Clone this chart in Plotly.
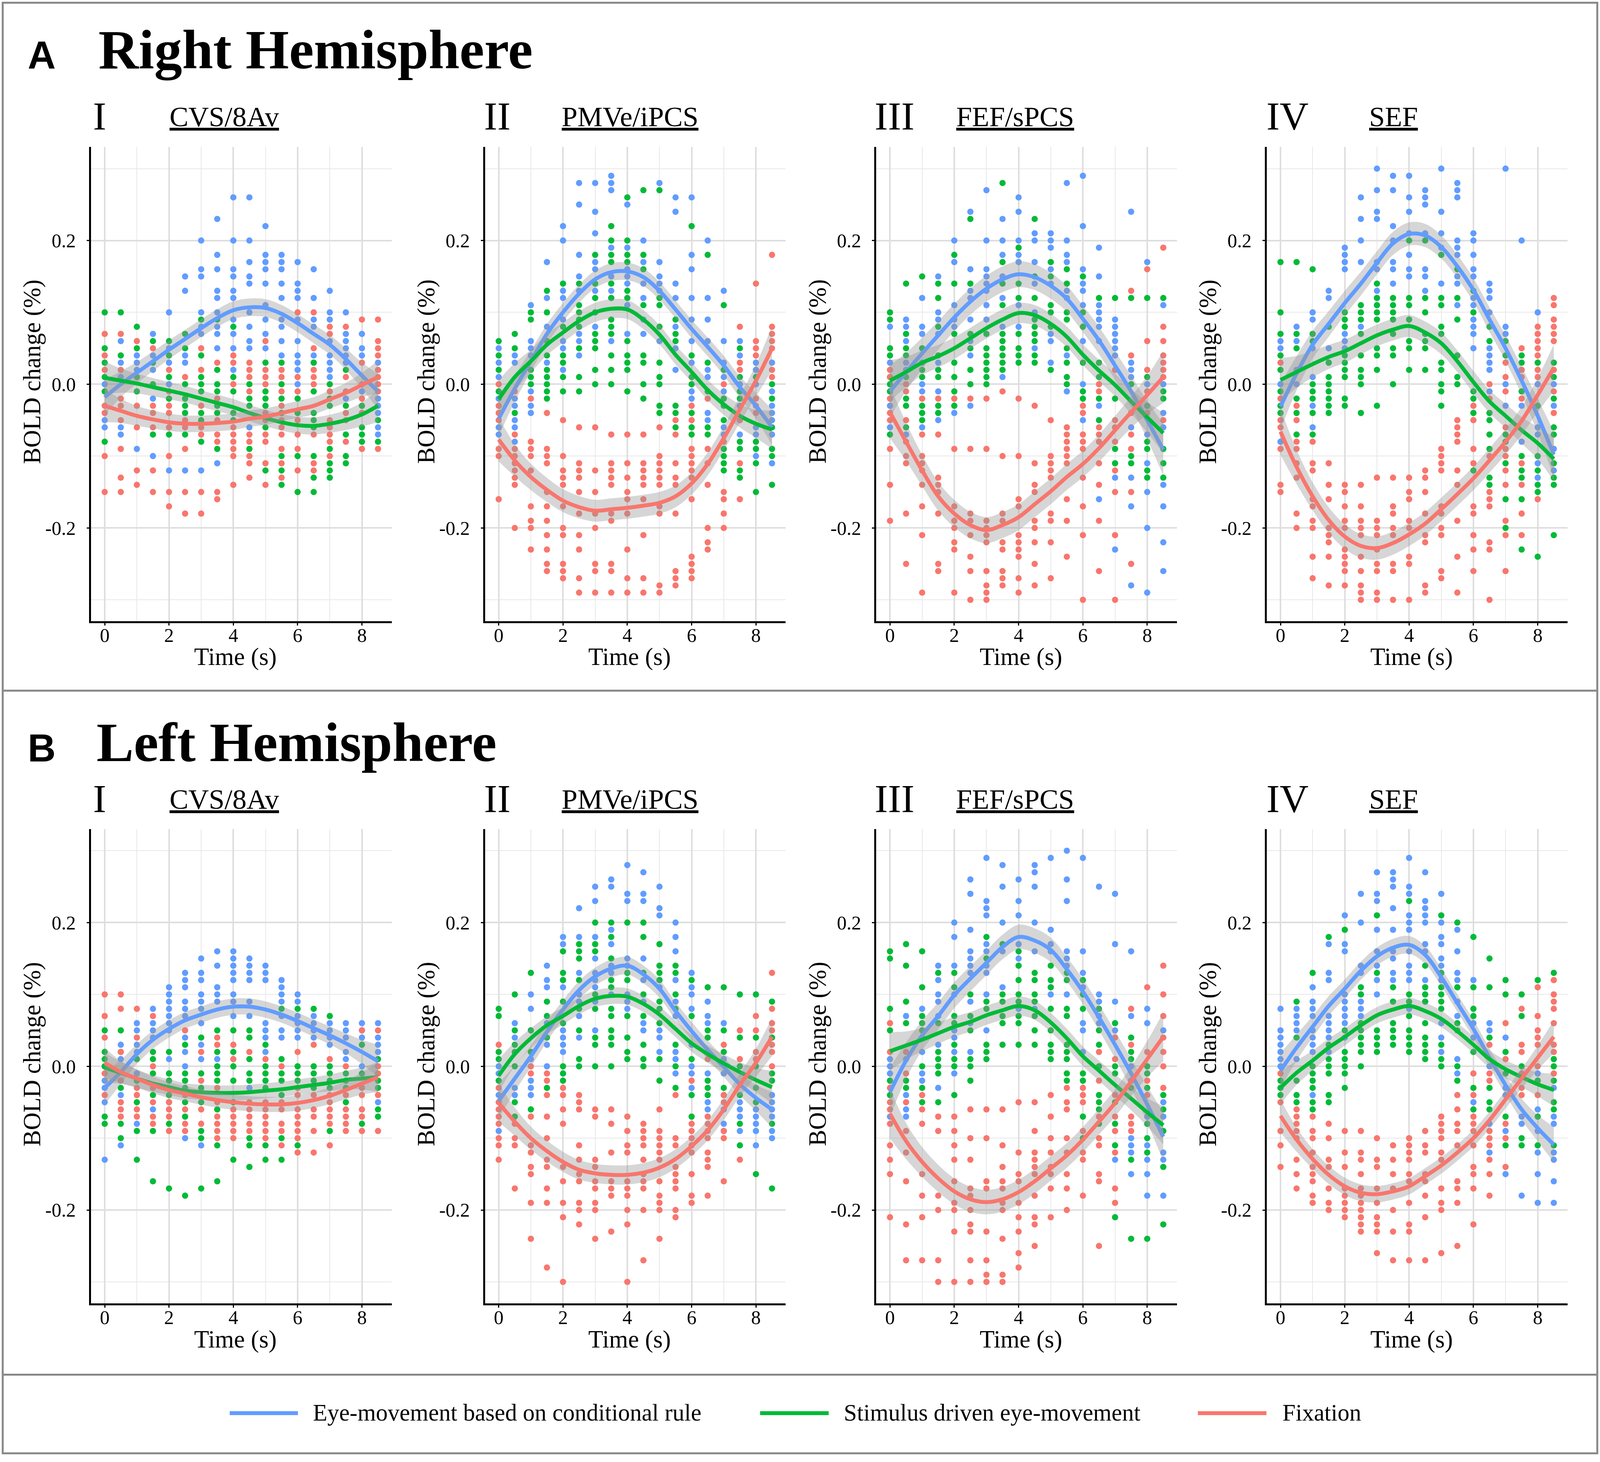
import plotly.graph_objects as go

# Reference composition is 4130 x 3742; the captured viewport is 4096 px wide,
# so the composition is mapped onto a 4096 px wide figure.
REF_W, REF_H = 4130, 3742
FW, FH = 4096, 3742
SX = FW / REF_W
SY = 1 - (1 - SX) * 0.5
FS = SX  # font scale

TIMES = [0.0, 0.5, 1.0, 1.5, 2.0, 2.5, 3.0, 3.5, 4.0, 4.5, 5.0, 5.5, 6.0, 6.5, 7.0, 7.5, 8.0, 8.5]
CONDITIONS = ["Eye-movement based on conditional rule", "Stimulus driven eye-movement", "Fixation"]
COLORS = ["#619CFF", "#00BA38", "#F8766D"]
REGIONS = ["CVS/8Av", "PMVe/iPCS", "FEF/sPCS", "SEF"]
NUMERALS = ["I", "II", "III", "IV"]
HEMI_LETTERS = ["A", "B"]
HEMI_TITLES = ["Right Hemisphere", "Left Hemisphere"]
X_TICKS = [0, 2, 4, 6, 8]
X_MINOR = [1, 3, 5, 7]
Y_TICKS = [-0.2, 0.0, 0.2]
Y_TICK_LABELS = ["-0.2", "0.0", "0.2"]
Y_MINOR = [-0.3, -0.1, 0.1, 0.3]

# ---------- individual points (BOLD change in hundredths of %), one list per time point ----------
A1_B = [[0,-5,-6],[6,3,1,-6,-7],[4,3,2,-9],[7,4,2,-2,-10],[10,5,3,0,-12],[15,13,4,3,-12],
        [20,16,15,10,8,7,-12],[23,18,16,13,12,10,8,7,5,-11],[26,20,16,15,13,12,9,7,5,2],
        [26,20,17,15,14,10,8,6,5,-6],[22,18,17,16,14,11,9,7,5],[18,17,16,14,12,9,8,6,4],
        [17,14,13,12,9,6,4,3,2,0],[16,12,9,8,4,3],[13,10,9,6,4,3,2,1],[10,7,6,5,4,3,-2],
        [7,5,4,-1],[3,-2,-3,-4,-6,-7]]
A1_G = [[10,5,3,1,-1,-8],[10,4],[8,5,1,-1],[6,3,0,-7],[6,4,1,-2,-7],[7,5,0,-2,-3,-4,-7],
        [9,4,1,0,-1,-4,-5,-8],[9,2,0,-1,-3,-4,-9],[8,1,-1,-4,-5],[0,-2,-3,-9],
        [3,-1,-2,-3,-6,-12],[3,0,-2,-4,-10,-12,-14],[-2,-4,-10,-15],[3,-1,-4,-5,-6,-10,-13,-15],
        [0,-2,-3,-9,-11,-12,-13],[2,-3,-7,-10,-11],[-3,-6,-7,-8],[-5,-8]]
A1_R = [[7,4,2,-3,-4,-10,-15],[7,2,-2,-3,-5,-9,-13,-15],[6,-3,-6,-12,-14],[5,-3,-4,-6,-12,-15],
        [2,-1,-3,-4,-6,-10,-15,-17],[1,-5,-6,-9,-15,-18],[5,2,-3,-6,-7,-15,-18],
        [3,-2,-5,-7,-8,-15,-16],[4,3,0,-6,-7,-8,-9,-10,-14],[3,2,1,-1,-7,-8,-10,-11,-13],
        [6,2,1,0,-4,-5,-7,-8,-11,-14],[2,1,-1,-3,-5,-6,-7,-9,-11,-13],[10,1,-1,-5,-7,-9,-12],
        [10,5,2,1,0,-7,-11,-12],[8,7,-1,-5,-6,-7,-8,-10],[8,1,-1,-4,-5,-8],[9,3,0,-2,-4,-9],
        [9,6,5,4,2,1,0,-1,-9]]
A2_B = [[5,3,1,-2,-6,-7],[4,3,-2,-3,-5,-6,-8],[11,6,5,4,-1,-3,-4],[17,12,8,3],
        [22,20,13,12,9,6,5,2],[28,25,18,15,13,7,6,4],[28,24,21,17,16,13,8],[29,28,27,19,15,13,12,6],
        [25,19,16,15,14,11,7],[20,17,14,12,9,7],[28,17,15,14,13,6],[26,24,14,12,8,5,2],
        [26,18,16,12,9,6,3,-1,-2],[20,12,9,6,2,1,-4,-5],[13,6,3,1,-1,-6,-7],[6,4,0,-3,-5,-7],
        [3,2,0,-6,-7,-10],[3,-1,-3,-4,-5,-7,-11]]
A2_G = [[6,4,2,-1],[7,5,-4],[10,9,2,1,0],[13,10,6,4,2,1,0,-1,-2],[14,8,4,3,1,-1],
        [14,11,10,9,8,5,1,-1],[18,14,12,10,7,6,5,2,0],[22,20,18,17,14,12,9,8,7,4,2,0],
        [26,20,18,17,13,12,6,4,3,2,-1],[27,18,16,11,4,3,0,-2],[27,12,11,8,3,1,0,-3,-4],
        [9,7,6,-3,-4,-6],[22,4,1,0,-4,-6,-7],[18,3,-1,-6,-7],[11,2,-2,-3,-5,-9,-10,-11,-12],
        [5,1,-1,-2,-8,-9,-12,-13],[1,-8,-9,-11,-15],[0,-2,-6,-9,-10,-14]]
A2_R = [[0,-3,-4,-5,-9,-10,-16],[-1,-7,-9,-10,-11,-12,-13,-14,-20],[-2,-8,-9,-10,-12,-17,-19,-20,-23],
        [-4,-9,-10,-11,-15,-17,-19,-21,-23,-25,-26],[-5,-10,-12,-13,-14,-17,-20,-21,-25,-26,-27],
        [-6,-11,-12,-13,-15,-18,-21,-23,-27,-29],[-6,-12,-15,-18,-20,-25,-26,-29],
        [-7,-11,-12,-13,-14,-18,-19,-25,-26,-29],[-7,-11,-13,-15,-16,-18,-23,-27,-29],
        [-7,-11,-12,-13,-14,-16,-21,-27,-29],[-6,-10,-11,-12,-13,-14,-17,-18,-28,-29],
        [-5,-7,-11,-13,-14,-18,-26,-27,-28],[-3,-5,-9,-10,-11,-12,-13,-16,-24,-25,-26,-27],
        [-2,-9,-11,-14,-20,-22,-23],[0,-8,-15,-16,-18,-20],[8,3,2,-5,-11,-16],[14,6,5,4,-2,-3,-4],
        [18,8,7,6,5,2,1]]
A3_B = [[8,3,-1,-3,-6],[9,8,6,3,2,-7],[12,8,7,3,0,-1,-6],[15,10,9,7,3,-1,-5],[20,17,11,9,8,-4],
        [24,16,13,12,9,6,4,-3],[27,20,16,15,14,13,11,9],[23,20,18,15,12,8,1],[26,24,20,18,17,11,8],
        [21,20,17,14,10,5],[21,20,19,16,14,7,6,3],[28,20,18,17,13,12,4,-1],[29,22,16,14,13,11,6,0,-5],
        [19,15,11,10,9,8,6,-3,-16],[9,8,7,6,5,4,-13,-23],[24,3,2,1,-6,-13,-17,-28],
        [17,0,-7,-11,-15,-20,-29],[11,0,-4,-6,-14,-17,-22,-26]]
A3_G = [[10,9,5,4,1,0,-1,-7],[14,7,5,4,1,-2,-3,-6],[15,5,2,1,-3,-4,-5],[14,12,8,4,2,1,-3,-4],
        [18,14,7,3,1,-1,-3],[23,14,7,5,2,0],[7,5,4,3,2,1,0],[28,17,14,11,7,6,5,4,3,2],
        [19,14,12,7,5,4,3],[23,15,12,9,8,7,6,4,3],[17,15,11,10,8,2],[16,14,10,9,5,3,1,0],
        [15,10,8,3,-1,-2],[12,3,1,-2,-5],[12,-2,-9,-11],[12,0,-10,-11],[12,1,-3,-8,-9,-12,-13],
        [12,-1,-2,-9,-11,-13]]
A3_R = [[2,1,-2,-4,-5,-9,-14,-19],[0,-1,-5,-8,-10,-11,-18,-25],[-2,-7,-10,-11,-12,-14,-17,-21,-29],
        [-2,-7,-13,-14,-15,-18,-25,-26],[-2,-9,-17,-19,-20,-22,-23,-29],[-2,-9,-18,-19,-21,-24,-26,-30],
        [-2,-9,-19,-20,-21,-22,-26,-28,-29,-30],[-1,-10,-18,-19,-22,-23,-26,-27,-28],
        [-2,-10,-16,-17,-21,-22,-23,-24,-27,-29],[-3,-11,-14,-15,-19,-20,-22,-25,-28],
        [-5,-10,-11,-12,-13,-18,-19,-22,-27],[-6,-7,-8,-9,-10,-11,-16,-19,-24],
        [-3,-4,-7,-8,-9,-13,-17,-21,-30],[0,-1,-6,-7,-8,-11,-14,-19,-26],[2,-5,-6,-8,-12,-15,-21,-30],
        [13,4,-4,-7,-9,-15,-25],[16,6,2,-1,-4],[19,8,6,4,3,2,1,-5]]
A4_B = [[6,5,0,-8],[8,6,2,0],[10,9,5,1,-3,-6],[13,12,5,3],[19,18,17,16,7,6,5],[26,23,20,17,8],
        [30,27,24,23,17,16,13,12,11],[29,27,22,20,17,16,14],[29,26,24,21,18,16,15],
        [27,26,25,21,16,15,13],[30,24,21,19,14],[28,27,26,20,19,18,15,14,11],
        [21,20,18,16,15,12,11,9,8,7,5],[14,13,12,10,5,4,3,2,-1],[30,8,7,0,-3],[20,2,-3,-8],
        [10,0,-6,-7,-11,-13],[0,-3,-9,-12]]
A4_G = [[17,10,7,4,2,-1,-3,-4],[17,7,5,-2,-4,-7],[16,7,6,0,-1,-2,-4,-7],[8,3,1,0,-1,-2,-3,-4],
        [10,9,8,4,3,2,1,-2,-3],[11,10,9,7,4,2,1,0,-4],[14,12,11,10,9,5,4,2,-3],[12,11,10,9,7,5,4,0],
        [20,12,11,9,6,5,2],[20,12,10,7,6,5,2],[18,12,11,8,7,3,2,0,-1,-3],[16,12,9,4,1,0],
        [13,10,-1,-2,-4,-12],[8,6,-4,-5,-7,-9,-13,-14],[6,4,-7,-8,-11,-16,-20],
        [4,3,-1,-10,-12,-13,-16,-23],[3,-3,-10,-12,-14,-15,-24],[3,1,-2,-6,-7,-11,-13,-14,-21]]
A4_R = [[3,-2,-5,-6,-9,-14,-15],[-3,-5,-8,-9,-11,-13,-18,-20],[-8,-11,-12,-16,-17,-19,-20,-24,-27],
        [-11,-14,-16,-20,-21,-22,-24,-28],[-14,-15,-17,-19,-20,-23,-24,-25,-26,-28],
        [-14,-17,-19,-20,-21,-24,-26,-28,-29,-30],[-13,-19,-20,-21,-23,-25,-26,-29,-30],
        [-13,-17,-18,-20,-21,-25,-26,-30],[-13,-15,-16,-19,-20,-24,-25,-30],
        [-12,-13,-15,-18,-21,-22,-28,-29],[-9,-10,-11,-12,-17,-18,-20,-21,-26,-27],
        [-5,-6,-7,-8,-12,-14,-19,-24,-29],[-3,-5,-9,-11,-17,-18,-21,-23,-26],
        [0,-2,-10,-15,-16,-17,-22,-23,-30],[3,1,-1,-6,-9,-10,-12,-14,-19,-21,-26],
        [5,2,1,-2,-11,-14,-18,-21],[8,7,6,5,4,2,1,-16],[12,11,9,8,7,6,2,-1,-4]]
B1_B = [[0,-2,-3,-5,-13],[3,1,-4,-11],[6,5,3,2,-1,-8],[8,6,5,4,-6],[11,10,9,8,7,6,5,1],
        [13,12,11,9,8,7,4,2,0,-10],[15,13,12,10,9,8,6,3,1,-11],[16,14,11,10,9,1],
        [16,15,14,13,12,10,9,7],[15,14,13,12,9,7,-3],[14,13,12,6,5,4,2],[12,11,10,9,7,5,4],
        [10,9,7,6,5,4],[7,6,5,4],[6,5,4,3],[6,5,4,2,1],[6,5,4,0],[6,4,3,2,-5]]
B1_G = [[5,2,1,0,-7,-8],[5,2,-3,-8,-10],[1,-2,-5,-9,-13],[2,1,-1,-4,-9,-16],[2,-1,-2,-4,-5,-8,-17],
        [3,-1,-2,-3,-5,-7,-18],[4,-1,-3,-5,-9,-10,-17],[5,2,0,-1,-2,-6,-11,-16],[5,2,0,-2,-5,-13],
        [5,4,1,-1,-2,-10,-11,-14],[3,0,-1,-2,-3,-11,-13],[8,1,-1,-2,-4,-10,-13],[8,0,-1,-2,-3,-11],
        [8,0,-1,-2,-3],[7,0,-1,-2,-3,-9],[-1,-2,-3,-5],[3,-1,-8],[1,-2,-3,-6,-7]]
B1_R = [[10,7,4,-1,-4],[10,8,2,-2,-5,-6,-7],[8,4,-3,-4,-6,-7],[7,0,-3,-5,-7,-8],[-5,-6,-7,-9],
        [5,-4,-6,-8,-9],[2,-2,-6,-8],[4,3,-3,-5,-7,-8,-9,-10],[3,1,-6,-7,-8,-9,-10],
        [2,-5,-6,-7,-8,-9],[1,-5,-6,-7,-8,-9,-10],[0,-5,-6,-8,-9,-11],[2,-3,-4,-6,-7,-8,-9,-10,-12],
        [3,-4,-6,-7,-9,-12],[1,-4,-5,-6,-7,-8,-11],[0,-4,-6,-7,-8,-9],[5,-3,-4,-6,-7,-9],
        [5,0,-1,-4,-9]]
B2_B = [[0,-1,-4,-9],[6,4,-3,-4],[10,8,1,-2,-3,-4],[14,12,11,6,3,0],[18,17,12,11,5,4,3,2],
        [22,18,13,10,9,7,4],[25,23,18,15,13,12,11,9,5],[26,25,19,17,14,13,10],
        [28,24,23,15,14,13,10,9,8],[27,24,23,15,12,9,6,5],[25,22,21,12,11,5,4,2],
        [20,18,16,12,9,7,2,1,-1],[13,11,10,8,3,0,-1,-3],[9,7,6,-1,-5,-6],[6,1,-1,-6,-8,-9],
        [-5,-6,-7,-9],[-6,-7,-8,-9,-11],[-4,-5,-6,-7,-9,-10]]
B2_G = [[8,7,2,1,-2],[10,5,3,2,0,-5,-7],[13,5,2,-6],[9,7,4,-3],[16,13,12,9,6,0,-1,-2],
        [17,16,15,12,8,5,1,0],[20,17,16,10,8,4,3,0],[20,18,15,12,11,8,7,5,4,3,0],[20,13,12,7,4,2,1],
        [20,18,13,10,7,3,1,0],[17,14,13,12,9,8,6,1,-2],[14,13,10,8,3,0,-3],[12,7,1,-4,-7],
        [11,5,4,-2,-3,-4],[11,5,2,-3,-4],[10,4,0,-4,-8,-11],[10,4,0,-3,-5,-15],[9,4,-1,-2,-8,-17]]
B2_R = [[3,-3,-5,-6,-7,-8,-10,-11,-13],[-8,-10,-11,-17],[0,-1,-7,-11,-12,-14,-15,-19,-24],
        [-1,-2,-4,-7,-10,-13,-14,-17,-19,-28],[-3,-4,-6,-8,-14,-16,-19,-21,-30],
        [-4,-5,-6,-11,-13,-15,-16,-19,-20,-22],[-6,-7,-13,-14,-16,-17,-19,-20,-24],
        [-6,-8,-12,-16,-17,-18,-23],[-7,-9,-11,-12,-16,-17,-18,-20,-22,-30],
        [-8,-9,-10,-11,-13,-15,-16,-17,-20,-27],[-6,-9,-10,-11,-12,-13,-16,-18,-19,-20,-24],
        [-4,-10,-11,-14,-15,-16,-17,-20,-21],[-2,-8,-9,-10,-11,-12,-15,-18,-19],
        [1,-7,-8,-9,-10,-12,-13,-14,-18],[3,-4,-5,-9,-10,-16],[5,1,-13],[7,5,2,1],[13,8,6,5,3,2,0]]
B3_B = [[1,0,-1,-7],[7,1,-4,-6,-7],[8,4,2,-1,-2],[14,12,10,9,7,3,-3],[20,18,14,10,5,4,2,-1],
        [26,24,19,16,15,14,13,9,6,2],[29,23,22,21,17,16,14,13,10,5],[28,25,20,16,11],
        [26,23,21,17,15,8],[28,27,25,20,16,8],[29,19,17,16,11,10],[30,26,23,16,15,14,10],
        [29,16,13,11,6,5,2],[25,10,9,7,6],[24,17,9,5,-13],[16,7,0,-2,-10,-11,-12,-15],
        [8,6,-7,-11,-13,-15,-18],[5,-5,-7,-12,-13,-18]]
B3_G = [[16,15,8,5,-2,-4],[17,14,9,6,-2,-3],[16,11,7,6,5,0,-3,-5],[13,6,2,1,0,-1,-5],
        [13,11,7,6,3,1,0,-4],[10,7,5,1,0,-2],[18,15,9,8,3,2,1],[17,10,9,7,6,3],
        [16,14,12,10,9,7,6,3],[13,12,10,9,7,5,3],[14,12,11,8,5,3,2,1],[13,12,8,7,3,2,1,-1,-2],
        [12,10,8,-1,-2,-7,-10],[8,5,3,0,-4,-5,-6,-8],[6,0,-1,-5,-8,-11,-21],[4,2,1,-3,-13,-24],
        [0,-1,-3,-8,-10,-12,-24],[-4,-6,-9,-14,-22]]
B3_R = [[6,2,-3,-5,-6,-8,-11,-13,-15,-21],[2,-1,-5,-9,-12,-16,-22,-27],[-4,-6,-8,-15,-18,-21,-27],
        [-7,-9,-18,-20,-27,-30],[-7,-9,-11,-13,-16,-19,-20,-23,-30],
        [-6,-10,-13,-17,-18,-20,-22,-23,-27,-30],[-6,-10,-16,-17,-23,-27,-29,-30],
        [-6,-11,-14,-16,-17,-19,-20,-24,-29,-30],[-5,-12,-15,-16,-19,-21,-23,-26,-28],
        [-5,-9,-12,-13,-14,-15,-18,-21,-22,-25],[-4,-7,-10,-12,-14,-15,-17,-21],
        [-3,-5,-6,-10,-12,-15,-17,-20],[-3,-4,-5,-9,-12,-13,-18],[2,-2,-7,-10,-11,-15,-16,-25],
        [4,1,-4,-7,-9,-12,-17,-19],[8,3,-7,-8,-9],[11,2,-2,-4],[14,10,7,4,2,0,-3]]
B4_B = [[8,5,4,3,2,1,0],[8,7,6,5,1],[11,9,8,7,5,4,3,2,-4],[17,13,12,7,6,5,4,2],
        [21,17,16,10,9,8,7,6,4],[24,20,14,13,10,9,8,7],[27,24,23,19,16,14,12,10],
        [27,26,25,22,19,16,15,13,12],[29,25,24,21,20,19,16,14,13,12,8],
        [27,23,22,21,20,17,16,12,11,10,9],[24,20,18,17,15,14,12,6,4,2],[19,16,13,12,11,9,7,1,-1],
        [12,6,4,-5],[6,5,0,-8,-12],[4,-3,-4,-9,-15],[-7,-8,-18],[-1,-6,-9,-12,-15,-19],
        [-3,-7,-8,-12,-13,-16,-19]]
B4_G = [[-2,-3,-4],[9,4,-2,-4,-5],[13,0,-1,-2,-3,-5,-6],[18,3,1,0,-1,-4,-5],[19,5,2,1,0,-1,-3],
        [11,10,6,5,4,3,2,0],[21,13,5,4,3,2],[11,9,6,5,4,3],[23,10,9,7,5,4,3,2],
        [14,11,10,9,6,4,3,2,1],[21,13,11,10,9,8,3,1,0],[20,11,6,5,0,-2],[18,11,8,7,2,-3,-6],
        [15,11,4,-3,-5,-6],[12,10,2,-1,-7,-11],[10,7,0,-10,-11],[12,-2,-7,-11],[13,1,0,-2,-5,-6,-11]]
B4_R = [[-1,-5,-9,-11,-14],[-6,-7,-8,-9,-10,-13,-15,-17],[-7,-9,-10,-12,-14,-15,-16,-18,-19],
        [-8,-10,-13,-14,-17,-19,-20],[-9,-12,-14,-17,-18,-19,-20,-21],
        [-9,-12,-13,-15,-17,-18,-19,-20,-21,-22,-23],[-10,-13,-14,-17,-19,-21,-22,-23,-26],
        [-11,-13,-15,-17,-20,-23,-27],[-10,-11,-12,-13,-15,-16,-19,-22,-23,-27],
        [-9,-11,-12,-15,-16,-18,-21,-27],[-7,-8,-9,-10,-12,-13,-17,-19,-20,-26],
        [-4,-6,-8,-9,-11,-16,-17,-19,-25],[-1,-4,-7,-8,-9,-11,-14,-15,-17,-22],
        [3,-1,-2,-9,-10,-11,-13,-15,-18],[6,1,-8,-10,-14],[8,3,2,-1,-3,-4],[11,7,5,4,3,0,-4],
        [12,10,9,8,6,3,2,-1]]

# ---------- smoothed curves (loess fit, % BOLD) ----------
A1_B_FIT = [-0.018,0.000,0.016,0.032,0.048,0.063,0.078,0.092,0.103,0.107,0.106,0.098,0.085,0.070,0.055,0.035,0.012,-0.010]
A1_G_FIT = [0.009,0.005,0.001,-0.004,-0.009,-0.014,-0.020,-0.026,-0.032,-0.040,-0.047,-0.053,-0.057,-0.058,-0.055,-0.050,-0.042,-0.030]
A1_R_FIT = [-0.030,-0.037,-0.044,-0.049,-0.053,-0.055,-0.055,-0.054,-0.052,-0.048,-0.045,-0.040,-0.035,-0.030,-0.021,-0.012,-0.001,0.010]
A2_B_FIT = [-0.048,-0.006,0.032,0.070,0.100,0.126,0.146,0.156,0.157,0.149,0.130,0.104,0.077,0.052,0.026,-0.004,-0.030,-0.060]
A2_G_FIT = [-0.021,0.010,0.032,0.055,0.072,0.088,0.100,0.105,0.104,0.090,0.069,0.041,0.017,-0.008,-0.028,-0.044,-0.055,-0.063]
A2_R_FIT = [-0.077,-0.106,-0.129,-0.147,-0.162,-0.171,-0.176,-0.174,-0.172,-0.169,-0.165,-0.156,-0.138,-0.111,-0.075,-0.035,0.005,0.050]
A3_B_FIT = [-0.010,0.017,0.043,0.068,0.093,0.115,0.133,0.146,0.153,0.149,0.137,0.119,0.091,0.061,0.026,-0.010,-0.050,-0.091]
A3_G_FIT = [0.005,0.017,0.030,0.039,0.050,0.064,0.078,0.090,0.099,0.096,0.084,0.066,0.041,0.019,-0.001,-0.024,-0.046,-0.068]
A3_R_FIT = [-0.039,-0.080,-0.120,-0.156,-0.180,-0.196,-0.203,-0.196,-0.185,-0.167,-0.149,-0.129,-0.111,-0.089,-0.064,-0.039,-0.015,0.010]
A4_B_FIT = [-0.031,0.015,0.055,0.084,0.113,0.140,0.169,0.196,0.209,0.207,0.191,0.164,0.131,0.090,0.050,0.005,-0.044,-0.098]
A4_G_FIT = [0.006,0.017,0.028,0.038,0.046,0.057,0.068,0.076,0.081,0.072,0.057,0.032,0.003,-0.024,-0.044,-0.064,-0.082,-0.104]
A4_R_FIT = [-0.066,-0.115,-0.156,-0.189,-0.212,-0.225,-0.228,-0.221,-0.209,-0.194,-0.174,-0.153,-0.131,-0.106,-0.080,-0.051,-0.015,0.023]
B1_B_FIT = [-0.030,-0.008,0.017,0.037,0.052,0.064,0.072,0.079,0.083,0.083,0.079,0.072,0.063,0.053,0.043,0.032,0.020,0.007]
B1_G_FIT = [-0.002,-0.009,-0.017,-0.024,-0.029,-0.034,-0.036,-0.037,-0.037,-0.036,-0.034,-0.032,-0.029,-0.026,-0.023,-0.019,-0.017,-0.015]
B1_R_FIT = [0.005,-0.008,-0.017,-0.026,-0.033,-0.038,-0.043,-0.047,-0.050,-0.052,-0.053,-0.053,-0.051,-0.047,-0.041,-0.033,-0.024,-0.015]
B2_B_FIT = [-0.048,-0.017,0.014,0.048,0.079,0.106,0.125,0.136,0.140,0.128,0.108,0.077,0.049,0.023,-0.001,-0.025,-0.044,-0.060]
B2_G_FIT = [-0.013,0.017,0.039,0.057,0.070,0.084,0.094,0.098,0.097,0.087,0.072,0.052,0.032,0.017,0.004,-0.008,-0.019,-0.029]
B2_R_FIT = [-0.051,-0.077,-0.100,-0.118,-0.133,-0.144,-0.149,-0.151,-0.151,-0.148,-0.141,-0.129,-0.111,-0.089,-0.060,-0.026,0.005,0.041]
B3_B_FIT = [-0.036,0.008,0.043,0.070,0.099,0.122,0.144,0.166,0.180,0.175,0.162,0.135,0.104,0.068,0.030,-0.010,-0.053,-0.098]
B3_G_FIT = [0.021,0.029,0.037,0.046,0.055,0.062,0.071,0.078,0.084,0.078,0.061,0.039,0.014,-0.006,-0.026,-0.045,-0.064,-0.082]
B3_R_FIT = [-0.066,-0.104,-0.133,-0.156,-0.174,-0.185,-0.189,-0.185,-0.175,-0.160,-0.142,-0.124,-0.102,-0.077,-0.051,-0.021,0.010,0.041]
B4_B_FIT = [-0.006,0.026,0.055,0.084,0.108,0.133,0.153,0.165,0.169,0.155,0.124,0.088,0.052,0.012,-0.026,-0.060,-0.086,-0.109]
B4_G_FIT = [-0.030,-0.009,0.008,0.026,0.041,0.057,0.071,0.079,0.084,0.077,0.066,0.049,0.030,0.010,-0.004,-0.015,-0.025,-0.033]
B4_R_FIT = [-0.069,-0.102,-0.129,-0.151,-0.167,-0.176,-0.178,-0.174,-0.167,-0.153,-0.138,-0.120,-0.100,-0.075,-0.046,-0.017,0.012,0.041]

# confidence-band half widths at mid-range (blue, green, red) and relative widening toward the ends
A1_SE = [0.013, 0.012, 0.012]
A2_SE = [0.013, 0.014, 0.016]
A3_SE = [0.019, 0.015, 0.019]
A4_SE = [0.017, 0.016, 0.017]
B1_SE = [0.012, 0.011, 0.011]
B2_SE = [0.013, 0.012, 0.014]
B3_SE = [0.018, 0.014, 0.018]
B4_SE = [0.013, 0.012, 0.012]
SE_SHAPE = [1.9, 1.4, 1.15, 1.05, 1.0, 0.97, 0.95, 0.95, 0.95, 0.95, 0.95, 0.95, 0.97, 1.0, 1.05, 1.15, 1.4, 1.9]

PANELS = [
    ([A1_B, A1_G, A1_R], [A1_B_FIT, A1_G_FIT, A1_R_FIT], A1_SE),
    ([A2_B, A2_G, A2_R], [A2_B_FIT, A2_G_FIT, A2_R_FIT], A2_SE),
    ([A3_B, A3_G, A3_R], [A3_B_FIT, A3_G_FIT, A3_R_FIT], A3_SE),
    ([A4_B, A4_G, A4_R], [A4_B_FIT, A4_G_FIT, A4_R_FIT], A4_SE),
    ([B1_B, B1_G, B1_R], [B1_B_FIT, B1_G_FIT, B1_R_FIT], B1_SE),
    ([B2_B, B2_G, B2_R], [B2_B_FIT, B2_G_FIT, B2_R_FIT], B2_SE),
    ([B3_B, B3_G, B3_R], [B3_B_FIT, B3_G_FIT, B3_R_FIT], B3_SE),
    ([B4_B, B4_G, B4_R], [B4_B_FIT, B4_G_FIT, B4_R_FIT], B4_SE),
]

# ---------- layout geometry (reference pixels) ----------
PANEL_LEFT = [235, 1252, 2262, 3270]
PANEL_W = 776
ROW_TOP = [378, 2131]
PANEL_H = 1219
ROW_SHIFT = 1754
SERIF = "Liberation Serif"
SANS = "Liberation Sans"

def px(x):
    return x * SX / FW

def py(y):
    return 1 - y * SY / FH

def fs(s):
    return round(s * FS, 1)

fig = go.Figure()
layout_axes = {}

for k, (pts, fits, se) in enumerate(PANELS):
    row, col = divmod(k, 4)
    n = k + 1
    xa = "x" if n == 1 else f"x{n}"
    ya = "y" if n == 1 else f"y{n}"
    for c in range(3):
        xs, ys = [], []
        for t, vals in zip(TIMES, pts[c]):
            for v in vals:
                xs.append(t)
                ys.append(v / 100.0)
        fig.add_trace(go.Scatter(x=xs, y=ys, mode="markers", xaxis=xa, yaxis=ya,
                                 marker=dict(size=16, color=COLORS[c], line=dict(width=0)),
                                 hoverinfo="skip", showlegend=False))
    for c in range(3):
        fit = fits[c]
        lo = [f - se[c] * s for f, s in zip(fit, SE_SHAPE)]
        hi = [f + se[c] * s for f, s in zip(fit, SE_SHAPE)]
        fig.add_trace(go.Scatter(x=TIMES, y=lo, mode="lines", xaxis=xa, yaxis=ya,
                                 line=dict(width=0, shape="spline", color="rgba(0,0,0,0)"),
                                 hoverinfo="skip", showlegend=False))
        fig.add_trace(go.Scatter(x=TIMES, y=hi, mode="lines", xaxis=xa, yaxis=ya, fill="tonexty",
                                 fillcolor="rgba(153,153,153,0.4)",
                                 line=dict(width=0, shape="spline", color="rgba(0,0,0,0)"),
                                 hoverinfo="skip", showlegend=False))
        fig.add_trace(go.Scatter(x=TIMES, y=fit, mode="lines", xaxis=xa, yaxis=ya,
                                 line=dict(width=10, shape="spline", color=COLORS[c]),
                                 hoverinfo="skip", showlegend=False))

    left = PANEL_LEFT[col]
    top = ROW_TOP[row]
    xkey = "xaxis" if n == 1 else f"xaxis{n}"
    ykey = "yaxis" if n == 1 else f"yaxis{n}"
    common = dict(showgrid=True, gridcolor="#DEDEDE", gridwidth=4,
                  showline=True, linecolor="black", linewidth=5, ticks="outside", ticklen=6,
                  tickwidth=3, tickcolor="black", zeroline=False, automargin=False,
                  tickfont=dict(family=SERIF, size=fs(50), color="black"))
    layout_axes[xkey] = dict(
        domain=[px(left), px(left + PANEL_W)], anchor=ya, range=[-0.425, 8.925],
        tickvals=X_TICKS, ticktext=[str(v) for v in X_TICKS], ticklabelstandoff=-18,
        minor=dict(tickvals=X_MINOR, showgrid=True, gridcolor="#E8E8E8", gridwidth=2),
        **common)
    layout_axes[ykey] = dict(
        domain=[py(top + PANEL_H), py(top)], anchor=xa, range=[-0.33, 0.33],
        tickvals=Y_TICKS, ticktext=Y_TICK_LABELS, ticklabelstandoff=18,
        minor=dict(tickvals=Y_MINOR, showgrid=True, gridcolor="#E8E8E8", gridwidth=2),
        **common)

annotations = []
def ann(text, x, y, size, family=SERIF, xanchor="left", bold=False, angle=0):
    annotations.append(dict(text=f"<b>{text}</b>" if bold else text, x=px(x), y=py(y),
                            xref="paper", yref="paper", xanchor=xanchor, yanchor="middle",
                            showarrow=False, textangle=angle,
                            font=dict(family=family, size=fs(size), color="black")))

LETTER_Y = [142, 1922]
TITLE_X = [252, 247]
TITLE_Y = [128, 1908]
NUMERAL_X = [238, 1247, 2256, 3267]
REGION_X = [579, 1626, 2621, 3597]
for r in range(2):
    ann(HEMI_LETTERS[r], 70, LETTER_Y[r], 100, family=SANS, bold=True)
    ann(HEMI_TITLES[r], TITLE_X[r], TITLE_Y[r], 144, bold=True)
    for c in range(4):
        left = PANEL_LEFT[c]
        ann(NUMERALS[c], NUMERAL_X[c], 299 + r * ROW_SHIFT, 103)
        ann(f"<u>{REGIONS[c]}</u>", REGION_X[c], 300 + r * ROW_SHIFT, 73, xanchor="center")
        ann("BOLD change (%)", left - 152, 955 + r * ROW_SHIFT, 63, xanchor="center", angle=-90)
        ann("Time (s)", left + 373, 1688 + r * ROW_SHIFT, 63, xanchor="center")

# manual legend
LEG_KEY_X = [(593, 769), (1962, 2139), (3092, 3269)]
LEG_TEXT_X = [806, 2176, 3308]
LEG_Y = 3632
shapes = []
for c in range(3):
    x0, x1 = LEG_KEY_X[c]
    shapes.append(dict(type="line", xref="paper", yref="paper", x0=px(x0), x1=px(x1),
                       y0=py(LEG_Y), y1=py(LEG_Y), line=dict(color=COLORS[c], width=10)))
    ann(CONDITIONS[c], LEG_TEXT_X[c], LEG_Y - 2, 61)

# frame and dividers
FRAME = dict(color="#888888", width=5)
shapes.append(dict(type="rect", xref="paper", yref="paper", x0=px(7), x1=px(4123),
                   y0=py(3735), y1=py(7), line=FRAME, fillcolor="rgba(0,0,0,0)"))
for yline in (1775, 3533):
    shapes.append(dict(type="line", xref="paper", yref="paper", x0=px(7), x1=px(4123),
                       y0=py(yline), y1=py(yline), line=FRAME))

fig.update_layout(
    width=FW, height=FH, margin=dict(l=0, r=0, t=0, b=0),
    paper_bgcolor="white", plot_bgcolor="white", showlegend=False,
    annotations=annotations, shapes=shapes, **layout_axes,
)

fig.write_html("out.html", config={"displayModeBar": False},
               post_script="document.body.style.margin='0';document.body.style.overflow='hidden';")
